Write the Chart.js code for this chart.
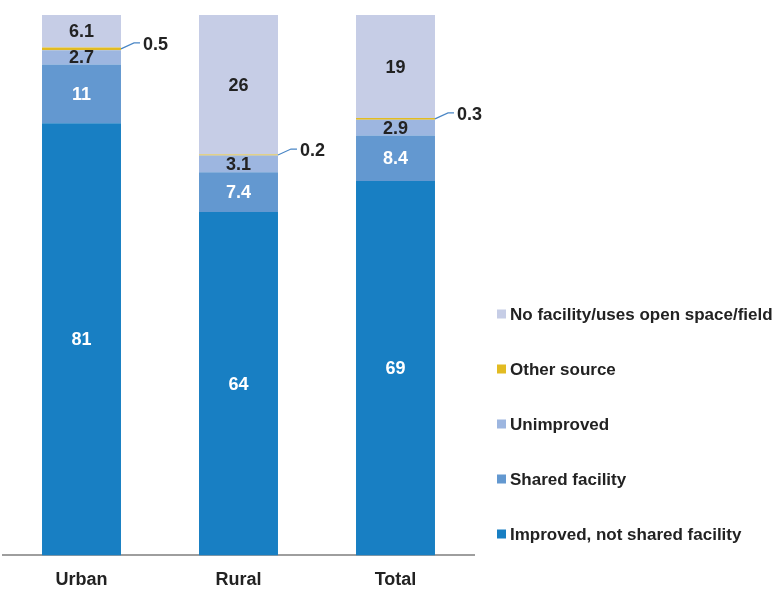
<!DOCTYPE html>
<html>
<head>
<meta charset="utf-8">
<script src="https://cdn.jsdelivr.net/npm/chart.js@4.4.1/dist/chart.umd.min.js"></script>
<style>
  html, body { margin: 0; padding: 0; background: #fff; }
  #wrap { width: 774px; height: 590px; position: relative; }
</style>
</head>
<body>
<div id="wrap"><canvas id="chart" width="774" height="590"></canvas></div>
<script>
/* Data */
const categories = ['Urban', 'Rural', 'Total'];
const improvedNotShared = [81, 64, 69];
const sharedFacility = [11, 7.4, 8.4];
const unimproved = [2.7, 3.1, 2.9];
const otherSource = [0.5, 0.2, 0.3];
const noFacility = [6.1, 26, 19];

const seriesNames = ['Improved, not shared facility', 'Shared facility', 'Unimproved', 'Other source', 'No facility/uses open space/field'];
const seriesColors = ['#187fc3', '#6398d0', '#9db6e0', '#e2bb22', '#c6cde6'];
const seriesValues = [improvedNotShared, sharedFacility, unimproved, otherSource, noFacility];

const FONT = '"Liberation Sans", Arial, sans-serif';

/* each bar is drawn as 100% stacked, labels show the raw values */
const totals = categories.map((_, i) => seriesValues.reduce((s, arr) => s + arr[i], 0));
const pct = (arr) => arr.map((v, i) => v / totals[i] * 100);

/* Labels plugin */
const barLabels = {
  id: 'barLabels',
  afterDatasetsDraw(chart) {
    const ctx = chart.ctx;
    ctx.save();
    ctx.font = 'bold 18px ' + FONT;
    ctx.textBaseline = 'middle';
    chart.data.datasets.forEach((ds, di) => {
      const meta = chart.getDatasetMeta(di);
      meta.data.forEach((bar, i) => {
        const v = seriesValues[di][i];
        const cy = (bar.y + bar.base) / 2;
        if (v < 1) {
          // leader line to the right of the bar
          const x0 = bar.x + bar.width / 2;
          ctx.strokeStyle = '#4a86c5';
          ctx.lineWidth = 1.2;
          ctx.beginPath();
          ctx.moveTo(x0, cy);
          ctx.lineTo(x0 + 13, cy - 6);
          ctx.lineTo(x0 + 19, cy - 6);
          ctx.stroke();
          ctx.fillStyle = '#222';
          ctx.textAlign = 'left';
          ctx.fillText(String(v), x0 + 22, cy - 4);
        } else {
          ctx.fillStyle = di < 2 ? '#fff' : '#222';
          ctx.textAlign = 'center';
          ctx.fillText(String(v), bar.x, cy + 1);
        }
      });
    });
    ctx.restore();
  }
};

/* Legend on the right, reversed order */
const sideLegend = {
  id: 'sideLegend',
  afterDraw(chart) {
    const ctx = chart.ctx;
    ctx.save();
    ctx.font = 'bold 17px ' + FONT;
    ctx.textBaseline = 'middle';
    ctx.textAlign = 'left';
    for (let k = 0; k < seriesNames.length; k++) {
      const di = seriesNames.length - 1 - k;
      const y = 314 + k * 55;
      ctx.fillStyle = seriesColors[di];
      ctx.fillRect(497, y - 4.5, 9, 9);
      ctx.fillStyle = '#222';
      ctx.fillText(seriesNames[di], 510, y + 1);
    }
    ctx.restore();
  }
};

const ctx = document.getElementById('chart').getContext('2d');
new Chart(ctx, {
  type: 'bar',
  data: {
    labels: categories,
    datasets: seriesNames.map((name, di) => ({
      label: name,
      data: pct(seriesValues[di]),
      backgroundColor: seriesColors[di],
      borderWidth: 0,
      categoryPercentage: 1,
      barPercentage: 0.503
    }))
  },
  options: {
    responsive: false,
    animation: false,
    layout: { padding: { left: 3, right: 300, top: 15, bottom: -15 } },
    plugins: { legend: { display: false }, tooltip: { enabled: false } },
    scales: {
      x: {
        stacked: true,
        grid: { display: false, drawTicks: false },
        border: { display: true, color: '#9e9e9e', width: 2 },
        ticks: { color: '#222', font: { family: FONT, size: 18, weight: 'bold' }, padding: 14 }
      },
      y: {
        stacked: true,
        display: false,
        min: 0,
        max: 100
      }
    }
  },
  plugins: [barLabels, sideLegend]
});
</script>
</body>
</html>
